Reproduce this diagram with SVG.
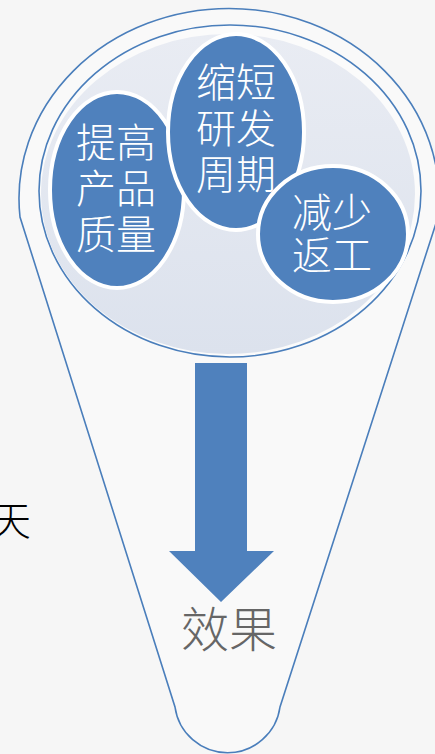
<svg xmlns="http://www.w3.org/2000/svg" width="435" height="754" viewBox="0 0 435 754">
<defs>
<linearGradient id="lensFill" x1="0" y1="0" x2="0" y2="1">
<stop offset="0" stop-color="#e9ecf3"/>
<stop offset="1" stop-color="#dce2ed"/>
</linearGradient>
<style>
.outline{fill:#fbfbfb;stroke:#4a7ebb;stroke-width:1.6}
.bubble{fill:#4f81bd;stroke:#ffffff;stroke-width:4}
.btxt{fill:#ffffff;font-family:"Noto Sans CJK SC","Noto Sans CJK JP",sans-serif;font-size:40px;font-weight:300;text-anchor:middle}
</style>
</defs>
<rect width="435" height="754" fill="#f6f6f6"/>
<g id="funnel">
<path d="M20,217 A210,190 0 1 1 438,217 L280,707 A53,53 0 0 1 175,707 Z" fill="#f9f9f9" stroke="#4a7ebb" stroke-width="1.6"/>
<ellipse class="outline" cx="230" cy="191" rx="191" ry="166"/>
<ellipse cx="228" cy="194" rx="187" ry="160" fill="url(#lensFill)"/>
</g>
<g id="node-quality">
<ellipse class="bubble" cx="117" cy="190" rx="67" ry="98"/>
<text class="btxt"><tspan x="116" y="157">提高</tspan><tspan x="116" y="203">产品</tspan><tspan x="116" y="249">质量</tspan></text>
</g>
<g id="node-cycle">
<ellipse class="bubble" cx="236" cy="132" rx="68" ry="98"/>
<text class="btxt"><tspan x="236" y="97">缩短</tspan><tspan x="236" y="143">研发</tspan><tspan x="236" y="189">周期</tspan></text>
</g>
<g id="node-rework">
<ellipse class="bubble" cx="333" cy="234" rx="75" ry="68"/>
<text class="btxt"><tspan x="332" y="227">减少</tspan><tspan x="332" y="270">返工</tspan></text>
</g>
<g id="connectors">
<path d="M195,363 H247 V551 H274 L221,602 L169,551 H195 Z" fill="#4f81bd"/>
</g>
<g id="node-effect">
<text x="229" y="647" fill="#666666" font-family="Noto Sans CJK SC, sans-serif" font-size="48" font-weight="300" text-anchor="middle">效果</text>
</g>
<g id="label-left">
<text x="-9" y="535" fill="#000000" font-family="Noto Sans CJK SC, sans-serif" font-size="40" font-weight="300">天</text>
</g>
</svg>
